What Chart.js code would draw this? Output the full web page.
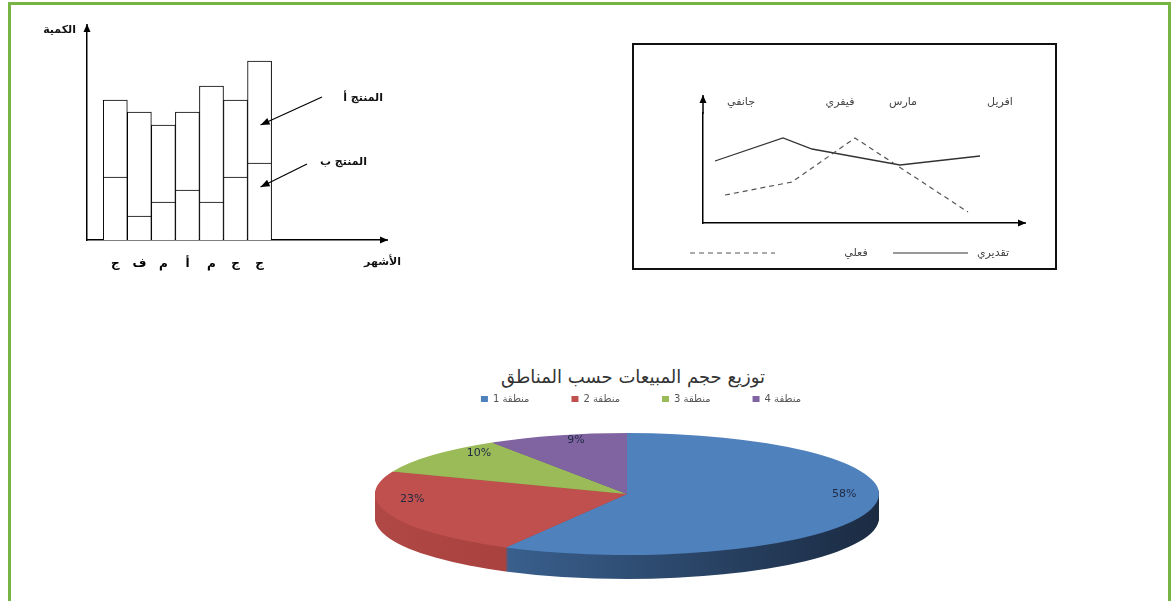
<!DOCTYPE html>
<html lang="ar">
<head>
<meta charset="utf-8">
<script src="https://cdn.jsdelivr.net/npm/chart.js@4.4.0/dist/chart.umd.min.js"></script>
<style>
  body { margin: 0; width: 1171px; height: 601px; background: #fff; position: relative; overflow: hidden; font-family: "DejaVu Sans", sans-serif; }
  .frame { position: absolute; left: 8px; top: 2px; width: 1163px; height: 640px; box-sizing: border-box; border: 3px solid #77b443; }
  .lineBox { position: absolute; left: 632px; top: 43px; width: 425px; height: 227px; box-sizing: border-box; border: 2px solid #111; }
  canvas { position: absolute; }
  .note { position: absolute; direction: rtl; font-weight: bold; font-size: 11px; color: #111; white-space: nowrap; line-height: 14px; }
  .pieTitle { position: absolute; left: 433px; width: 400px; top: 366px; text-align: center; direction: rtl; font-size: 18px; line-height: 22px; color: #333; }
</style>
</head>
<body>
<div class="frame"></div>

<canvas id="barChart" width="400" height="270" style="left:20px;top:10px"></canvas>
<div class="note" style="right:1095px;top:23px">الكمية</div>
<div class="note" style="right:770px;top:255px">الأشهر</div>
<div class="note" style="right:788px;top:91px">المنتج أ</div>
<div class="note" style="right:804px;top:155px">المنتج ب</div>

<div class="lineBox"></div>
<canvas id="lineChart" width="421" height="223" style="left:634px;top:45px"></canvas>

<div class="pieTitle">توزيع حجم المبيعات حسب المناطق</div>
<canvas id="pieChart" width="780" height="243" style="left:243px;top:352px"></canvas>

<script>
Chart.defaults.font.family = '"DejaVu Sans", sans-serif';

// --- bar chart: two products stacked per month
const months = ['ج', 'ف', 'م', 'أ', 'م', 'ج', 'ج'];
const productB = [6.3, 2.4, 3.8, 5.0, 3.8, 6.3, 7.7];
const productA = [7.7, 10.4, 7.7, 7.8, 11.6, 7.7, 10.2];
const noteValues = [11.5, 5.3]; // where the two arrows point on the last bar

// --- line chart: actual vs forecast
const lineMonths = ['جانفي', 'فيفري', 'مارس', 'افريل'];
const lineMonthPos = [3.8, 13.7, 20.0, 29.7];
const actualX = [2.2, 8.9, 15.2, 26.5];
const actualY = [2.8, 4.1, 8.5, 1.1];
const forecastX = [1.2, 8.0, 10.9, 19.7, 27.7];
const forecastY = [6.2, 8.5, 7.4, 5.8, 6.7];

// --- pie chart: sales by region
const regions = ['منطقة 1', 'منطقة 2', 'منطقة 3', 'منطقة 4'];
const regionShares = [58, 23, 10, 9];
const regionColors = ['#4f81bd', '#c0504d', '#9bbb59', '#8064a2'];
const regionSides = [['#4472a8', '#1b2b42'], ['#b04845', '#94332f'], ['#7e9a46', '#6c853a'], ['#67508a', '#574479']];

function arrowHead(ctx, x1, y1, x2, y2, len, half) {
  const a = Math.atan2(y2 - y1, x2 - x1);
  ctx.beginPath();
  ctx.moveTo(x2, y2);
  ctx.lineTo(x2 - len * Math.cos(a) + half * Math.sin(a), y2 - len * Math.sin(a) - half * Math.cos(a));
  ctx.lineTo(x2 - len * Math.cos(a) - half * Math.sin(a), y2 - len * Math.sin(a) + half * Math.cos(a));
  ctx.closePath();
  ctx.fill();
}

function arrow(ctx, x1, y1, x2, y2, len, half) {
  ctx.beginPath();
  ctx.moveTo(x1, y1);
  ctx.lineTo(x2, y2);
  ctx.stroke();
  arrowHead(ctx, x1, y1, x2, y2, len, half);
}

// axis arrows drawn past the chart area ends
const axisArrows = {
  id: 'axisArrows',
  afterDraw(chart, args, opts) {
    const { ctx, chartArea: a } = chart;
    ctx.save();
    ctx.strokeStyle = '#000';
    ctx.fillStyle = '#000';
    ctx.lineWidth = 1.5;
    arrow(ctx, a.left, a.top + 1, a.left, a.top - opts.up, 8, 3.5);
    arrow(ctx, a.right - 1, a.bottom, a.right + opts.right, a.bottom, 8, 3.5);
    ctx.restore();
  }
};

const barNotes = {
  id: 'barNotes',
  afterDraw(chart) {
    const { ctx, scales } = chart;
    const tipX = scales.x.getPixelForValue(months.length - 1) + 1;
    const tails = [[302, 87], [287, 154]];
    ctx.save();
    ctx.strokeStyle = '#000';
    ctx.fillStyle = '#000';
    ctx.lineWidth = 1.2;
    noteValues.forEach((v, i) => {
      arrow(ctx, tails[i][0], tails[i][1], tipX, scales.y.getPixelForValue(v), 9, 3.5);
    });
    ctx.restore();
  }
};

const barStyle = { backgroundColor: '#fff', borderColor: '#000', borderWidth: 1, barPercentage: 1, categoryPercentage: 1 };

new Chart(document.getElementById('barChart'), {
  type: 'bar',
  data: {
    datasets: [
      { label: 'المنتج ب', data: productB.map((v, i) => ({ x: i, y: v })), ...barStyle },
      { label: 'المنتج أ', data: productA.map((v, i) => ({ x: i, y: v })), ...barStyle }
    ]
  },
  options: {
    responsive: false,
    animation: false,
    layout: { padding: { left: 67, top: 20, right: 39, bottom: 0 } },
    plugins: { legend: { display: false }, tooltip: { enabled: false }, axisArrows: { up: 6, right: 7 } },
    scales: {
      x: {
        type: 'linear', stacked: true, offset: false, min: -1.177, max: 11.05,
        grid: { display: false, drawTicks: false },
        border: { display: true, color: '#000', width: 1.5 },
        afterBuildTicks: (s) => { s.ticks = months.map((m, i) => ({ value: i })); },
        ticks: { autoSkip: false, padding: 17, color: '#000', font: { size: 12, weight: 'bold' }, callback: (v) => months[v] },
        afterFit: (s) => { s.height = 40; }
      },
      y: {
        stacked: true, min: 0, max: 21,
        grid: { display: false, drawTicks: false },
        border: { display: true, color: '#000', width: 1.5 },
        ticks: { display: false },
        afterFit: (s) => { s.width = 0; }
      }
    }
  },
  plugins: [axisArrows, barNotes]
});

// legend for the line chart: sample line, then label further right
const lineLegend = {
  id: 'lineLegend',
  afterDraw(chart) {
    const ctx = chart.ctx;
    const slots = [{ x1: 56, x2: 141, tx: 222 }, { x1: 259, x2: 334, tx: 359 }];
    const y = 208;
    ctx.save();
    chart.data.datasets.forEach((ds, i) => {
      const s = slots[i];
      ctx.strokeStyle = ds.borderColor;
      ctx.lineWidth = 1;
      ctx.setLineDash(ds.borderDash || []);
      ctx.beginPath();
      ctx.moveTo(s.x1, y);
      ctx.lineTo(s.x2, y);
      ctx.stroke();
      ctx.setLineDash([]);
      ctx.fillStyle = '#444';
      ctx.font = '11px "DejaVu Sans"';
      ctx.textAlign = 'center';
      ctx.textBaseline = 'middle';
      ctx.fillText(ds.label, s.tx, y);
    });
    ctx.restore();
  }
};

new Chart(document.getElementById('lineChart'), {
  type: 'line',
  data: {
    datasets: [
      { label: 'فعلي', data: actualX.map((x, i) => ({ x, y: actualY[i] })), borderColor: '#555', borderWidth: 1.2, borderDash: [5, 4], pointRadius: 0, fill: false },
      { label: 'تقديري', data: forecastX.map((x, i) => ({ x, y: forecastY[i] })), borderColor: '#333', borderWidth: 1.3, pointRadius: 0, fill: false }
    ]
  },
  options: {
    responsive: false,
    animation: false,
    layout: { padding: { left: 69, top: 30, right: 36, bottom: 0 } },
    plugins: { legend: { display: false }, tooltip: { enabled: false }, axisArrows: { up: 18, right: 7 } },
    scales: {
      x: {
        type: 'linear', min: 0, max: 31.6,
        grid: { display: false, drawTicks: false },
        border: { display: true, color: '#000', width: 1.5 },
        ticks: { display: false },
        afterFit: (s) => { s.height = 45; }
      },
      x2: {
        type: 'linear', position: 'top', min: 0, max: 31.6,
        grid: { display: false, drawTicks: false },
        border: { display: false },
        afterBuildTicks: (s) => { s.ticks = lineMonthPos.map((p) => ({ value: p })); },
        ticks: { autoSkip: false, padding: 4, color: '#444', font: { size: 11 }, callback: (v) => lineMonths[lineMonthPos.indexOf(v)] },
        afterFit: (s) => { s.height = 38; }
      },
      y: {
        min: 0, max: 11,
        grid: { display: false, drawTicks: false },
        border: { display: true, color: '#000', width: 1.5 },
        ticks: { display: false },
        afterFit: (s) => { s.width = 0; }
      }
    }
  },
  plugins: [axisArrows, lineLegend]
});

// squash the pie into an ellipse and add a side wall underneath
const PIE_CX = 384, PIE_CY = 142, PIE_RX = 252, PIE_RY = 61, PIE_DEPTH = 24;
const pie3d = {
  id: 'pie3d',
  beforeDatasetsDraw(chart) {
    const ctx = chart.ctx;
    const arcs = chart.getDatasetMeta(0).data;
    const r = arcs[0].outerRadius;
    const sx = PIE_RX / r, sy = PIE_RY / r;
    for (let d = PIE_DEPTH; d > 0; d--) {
      arcs.forEach((arc, i) => {
        ctx.save();
        ctx.translate(PIE_CX, PIE_CY + d);
        ctx.scale(sx, sy);
        const g = ctx.createLinearGradient(-r, 0, r, 0);
        g.addColorStop(0, regionSides[i][0]);
        g.addColorStop(1, regionSides[i][1]);
        ctx.fillStyle = g;
        ctx.beginPath();
        ctx.moveTo(0, 0);
        ctx.arc(0, 0, r, arc.startAngle, arc.endAngle);
        ctx.closePath();
        ctx.fill();
        ctx.restore();
      });
    }
    ctx.save();
    ctx.translate(PIE_CX, PIE_CY);
    ctx.scale(sx, sy);
    ctx.translate(-arcs[0].x, -arcs[0].y);
  },
  afterDatasetsDraw(chart) {
    const ctx = chart.ctx;
    ctx.restore();
    const arcs = chart.getDatasetMeta(0).data;
    ctx.save();
    ctx.fillStyle = '#1f2a44';
    ctx.font = '11px "DejaVu Sans"';
    ctx.textAlign = 'center';
    ctx.textBaseline = 'middle';
    arcs.forEach((arc, i) => {
      // place the label as if the disc were seen in perspective (back part shrinks)
      const mid = (arc.startAngle + arc.endAngle) / 2;
      const u = 0.85 * Math.cos(mid), v = 0.85 * Math.sin(mid);
      const w = 1 - 0.213 * v;
      const lx = PIE_CX + PIE_RX * u / w;
      const ly = PIE_CY + (PIE_RY * v - 13) / w;
      ctx.fillText(regionShares[i] + '%', lx, ly);
    });
    ctx.restore();
  }
};

new Chart(document.getElementById('pieChart'), {
  type: 'pie',
  data: {
    labels: regions,
    datasets: [{ data: regionShares, backgroundColor: regionColors, borderWidth: 0 }]
  },
  options: {
    responsive: false,
    animation: false,
    layout: { padding: { left: 16, top: 0, bottom: 10 } },
    plugins: {
      legend: { position: 'top', textDirection: 'rtl', labels: { boxWidth: 7, boxHeight: 6, padding: 42, color: '#555', font: { size: 10 } } },
      tooltip: { enabled: false }
    }
  },
  plugins: [pie3d]
});
</script>
</body>
</html>
